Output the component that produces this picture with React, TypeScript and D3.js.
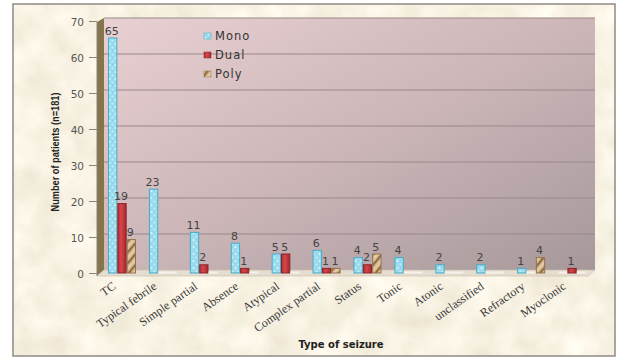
import React from "react";
import * as d3 from "d3";

// Seizure types and patient counts per treatment regimen
const categories = [
  "TC",
  "Typical febrile",
  "Simple partial",
  "Absence",
  "Atypical",
  "Complex partial",
  "Status",
  "Tonic",
  "Atonic",
  "unclassified",
  "Refractory",
  "Myoclonic",
];
const series = ["Mono", "Dual", "Poly"];
const mono = [65, 23, 11, 8, 5, 6, 4, 4, 2, 2, 1, 0];
const dual = [19, 0, 2, 1, 5, 1, 2, 0, 0, 0, 0, 1];
const poly = [9, 0, 0, 0, 0, 1, 5, 0, 0, 0, 4, 0];
const yTicks = [0, 10, 20, 30, 40, 50, 60, 70];

const W = 618;
const H = 358;

export default function App() {
  const values = [mono, dual, poly];
  const x = d3.scaleBand<string>().domain(categories).range([104, 595]).padding(0);
  const xs = d3.scaleBand<string>().domain(series).range([0, 28]).padding(0);
  const y = d3.scaleLinear().domain([0, 70]).range([270, 18]);
  const floorY = 273; // bars stand mid-way on the floor
  const lift = 2;
  const bw = xs.bandwidth();
  const fills = ["url(#monoPat)", "url(#dualGrad)", "url(#polyPat)"];
  const strokes = ["#46abc8", "#8c2528", "#94734a"];

  return (
    <svg
      width={W}
      height={H}
      viewBox={`0 0 ${W} ${H}`}
      style={{ position: "absolute", left: 0, top: 0, display: "block" }}
    >
      <defs>
        <filter id="parch" x="0" y="0" width="100%" height="100%">
          <feTurbulence type="fractalNoise" baseFrequency="0.03" numOctaves={4} seed={7} result="n" />
          <feColorMatrix
            in="n"
            type="matrix"
            values="0.24 0 0 0 0.82  0.26 0 0 0 0.76  0.32 0 0 0 0.61  0 0 0 0 1"
          />
        </filter>
        <linearGradient id="wall" x1="0" y1="0" x2="1" y2="1">
          <stop offset="0" stopColor="#e9d0d3" />
          <stop offset="0.5" stopColor="#ccb6b8" />
          <stop offset="1" stopColor="#a6989a" />
        </linearGradient>
        <pattern id="monoPat" width="6" height="7" patternUnits="userSpaceOnUse">
          <rect width="6" height="7" fill="#9adced" />
          <circle cx="1.5" cy="2" r="1" fill="#dcf5fb" />
          <circle cx="4.5" cy="5.5" r="0.9" fill="#c8eef7" />
          <circle cx="4.6" cy="1.2" r="0.5" fill="#6cc6dd" />
        </pattern>
        <linearGradient id="dualGrad" x1="0" y1="0" x2="1" y2="0">
          <stop offset="0" stopColor="#b32d31" />
          <stop offset="0.4" stopColor="#d5464b" />
          <stop offset="1" stopColor="#a5272b" />
        </linearGradient>
        <pattern id="polyPat" width="7" height="7" patternUnits="userSpaceOnUse" patternTransform="rotate(40)">
          <rect width="7" height="7" fill="#d8bc92" />
          <rect width="2.2" height="7" fill="#8f6c44" />
          <rect x="4" width="0.8" height="7" fill="#efdcbc" />
        </pattern>
      </defs>

      {/* parchment panel */}
      <rect x={13} y={4} width={602} height={352} filter="url(#parch)" />
      <rect x={13} y={4} width={602} height={352} fill="none" stroke="#8e8a84" strokeWidth={1.5} />

      {/* back wall with gridlines */}
      <rect x={104} y={18} width={491} height={252} fill="url(#wall)" />
      {yTicks.slice(1).map((t) => (
        <line key={t} x1={104} x2={595} y1={y(t)} y2={y(t)} stroke="#9a888a" strokeWidth={1} />
      ))}

      {/* side wall and floor */}
      <polygon points={`97,22 104,18 104,270 97,276`} fill="#84754f" />
      <polygon points={`97,276 104,270 595,270 588,276`} fill="#e6ddd1" stroke="#c9bcaa" strokeWidth={0.6} />
      <line x1={97} x2={97} y1={22} y2={276} stroke="#8c8478" strokeWidth={1} />

      {/* y axis ticks and labels */}
      {yTicks.map((t) => (
        <g key={t}>
          <line x1={89} x2={97} y1={y(t) + 3.5} y2={y(t) + 3.5} stroke="#8c8478" strokeWidth={1} />
          <text
            x={84}
            y={y(t) + 7.5}
            textAnchor="end"
            fontFamily="DejaVu Sans, sans-serif"
            fontSize={10.5}
            fill="#555"
          >
            {t}
          </text>
        </g>
      ))}

      {/* bars */}
      {categories.map((c, i) =>
        series.map((s, k) => {
          const v = values[k][i];
          const bx = (x(c) as number) + 4 + (xs(s) as number);
          if (v === 0) {
            return (
              <rect key={c + s} x={bx} y={floorY - 1.5} width={bw} height={2} fill="#f6f1ea" />
            );
          }
          const top = y(v) + lift;
          return (
            <g key={c + s}>
              <rect
                x={bx + 0.5}
                y={top}
                width={bw - 1}
                height={floorY - top}
                fill={fills[k]}
                stroke={strokes[k]}
                strokeWidth={1}
              />
              <text
                x={bx + bw / 2 - 1}
                y={top - 3.5}
                textAnchor="middle"
                fontFamily="DejaVu Sans, sans-serif"
                fontSize={11}
                fill="#444"
              >
                {v}
              </text>
            </g>
          );
        })
      )}

      {/* category labels */}
      {categories.map((c) => {
        const cx = (x(c) as number) + x.bandwidth() / 2 - 8;
        return (
          <text
            key={c}
            transform={`translate(${cx},288) rotate(-35)`}
            textAnchor="end"
            fontFamily="Liberation Serif, serif"
            fontSize={12}
            fill="#3a3a3a"
          >
            {c}
          </text>
        );
      })}

      {/* legend */}
      {series.map((s, k) => (
        <g key={s} transform={`translate(204,${36 + k * 19})`}>
          <rect x={0} y={-3} width={7} height={6} fill={fills[k]} stroke={strokes[k]} strokeWidth={0.5} />
          <text
            x={11}
            y={4}
            fontFamily="DejaVu Sans, sans-serif"
            fontSize={11.5}
            letterSpacing={1}
            fill="#333"
          >
            {s}
          </text>
        </g>
      ))}

      {/* axis titles */}
      <text
        transform="translate(59,152) rotate(-90)"
        textAnchor="middle"
        fontFamily="Liberation Sans Narrow, Liberation Sans, sans-serif"
        fontWeight="bold"
        fontSize={10.5}
        textLength={119}
        lengthAdjust="spacingAndGlyphs"
        fill="#222"
      >
        Number of patients (n=181)
      </text>
      <text
        x={341}
        y={348}
        textAnchor="middle"
        fontFamily="DejaVu Sans, sans-serif"
        fontWeight="bold"
        fontSize={10}
        fill="#222"
      >
        Type of seizure
      </text>
    </svg>
  );
}
